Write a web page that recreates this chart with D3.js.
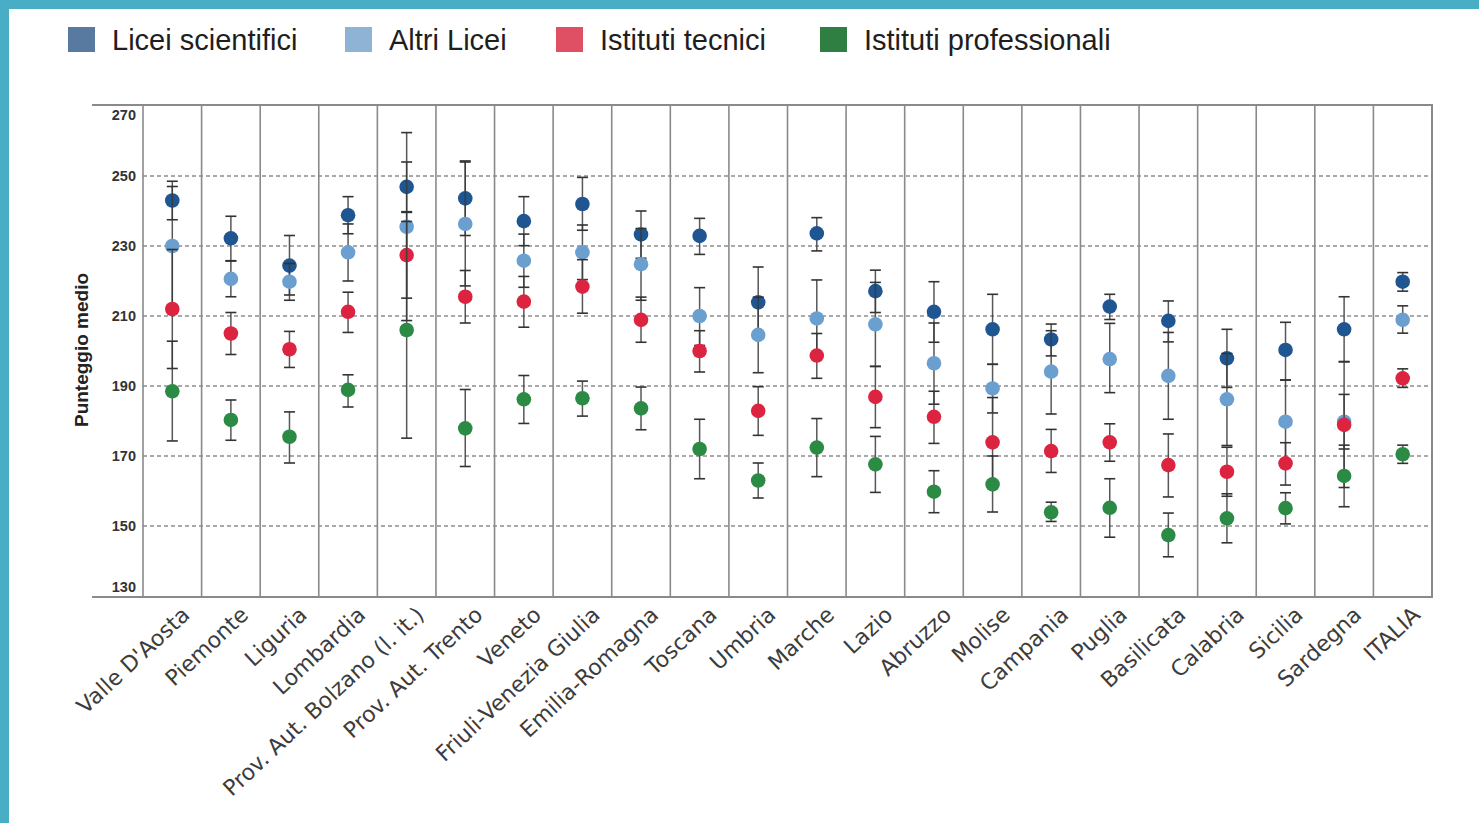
<!DOCTYPE html>
<html><head><meta charset="utf-8">
<script src="https://cdn.jsdelivr.net/npm/d3@7"></script>
<style>
html,body{margin:0;padding:0;background:#4aadc6;}
svg{display:block;}
</style></head>
<body>
<svg id="chart" width="1479" height="823"></svg>
<script>
const categories = ["Valle D'Aosta","Piemonte","Liguria","Lombardia","Prov. Aut. Bolzano (l. it.)","Prov. Aut. Trento","Veneto","Friuli-Venezia Giulia","Emilia-Romagna","Toscana","Umbria","Marche","Lazio","Abruzzo","Molise","Campania","Puglia","Basilicata","Calabria","Sicilia","Sardegna","ITALIA"];
const seriesNames = ["Licei scientifici","Altri Licei","Istituti tecnici","Istituti professionali"];

const liceiSci     = [243,232.2,224.4,238.8,246.9,243.6,237.1,242,233.3,232.9,213.9,233.6,217.1,211.2,206.2,203.3,212.7,208.6,197.9,200.3,206.2,219.8];
const liceiSciLo   = [237.5,225.8,216,233.5,239.8,233,230.1,234.5,226.5,227.6,204,228.6,211,202.5,196.2,198.6,209,202.6,189.6,191.7,197,217.1];
const liceiSciHi   = [248.5,238.5,233,244.1,254,254.3,244.1,249.6,240,237.9,224,238.1,223.1,219.8,216.2,207.7,216.2,214.3,206.2,208.2,215.5,222.4];

const altriLicei   = [230,220.6,219.8,228.2,235.5,236.3,225.8,228.2,224.8,210,204.6,209.3,207.6,196.5,189.3,194.1,197.7,192.9,186.2,179.8,179.8,208.9];
const altriLiceiLo = [213,215.5,214.5,220,208.7,218.6,218.2,220.4,214.5,201.6,193.8,198.3,195.6,184.8,182.3,182,188.1,180.5,173,167.9,172,205.1];
const altriLiceiHi = [247,225.7,225,236.3,262.4,254,233.4,236,235,218.1,215.4,220.3,219.6,208,196.2,205.8,207.9,205.3,199.3,191.7,187.6,212.9];

const tecnici      = [212,205,200.5,211.2,227.4,215.5,214.1,218.4,208.9,200,182.9,198.7,186.9,181.2,173.9,171.4,173.9,167.4,165.5,167.9,178.9,192.2];
const tecniciLo    = [195,199,195.3,205.3,215.1,208,206.8,210.8,202.5,194,175.9,192.2,178.1,173.6,161,165.3,168.5,158.3,158.5,161.7,161,189.6];
const tecniciHi    = [229,211,205.6,216.8,239.6,223,221.3,226.1,215.4,205.8,189.8,205,195.6,188.5,186.7,177.6,179.2,176.3,172.5,173.8,196.9,194.9];

const professionali   = [188.5,180.3,175.5,188.9,206,177.9,186.2,186.5,183.6,172,163,172.4,167.6,159.8,161.9,153.9,155.2,147.4,152.2,155.1,164.3,170.5];
const professionaliLo = [174.3,174.5,168,184,175.1,167,179.3,181.4,177.5,163.5,158,164.1,159.6,153.8,154,151.3,146.8,141.2,145.2,150.6,155.5,167.9];
const professionaliHi = [202.8,186,182.6,193.2,237,189,193,191.4,189.7,180.5,168,180.7,175.6,165.8,170,156.8,163.5,153.7,159.2,159.5,173.1,173.1];

const yTicks = [130,150,170,190,210,230,250,270];

const dotColors = ["#1f5590","#6a9fd0","#dc2440","#2b8a44"];
const legendColors = ["#587aa0","#8fb3d4","#e05064","#2f7f43"];

const series = [
  {name: seriesNames[0], mean: liceiSci, lo: liceiSciLo, hi: liceiSciHi},
  {name: seriesNames[1], mean: altriLicei, lo: altriLiceiLo, hi: altriLiceiHi},
  {name: seriesNames[2], mean: tecnici, lo: tecniciLo, hi: tecniciHi},
  {name: seriesNames[3], mean: professionali, lo: professionaliLo, hi: professionaliHi}
];

(function draw(){
const svg = d3.select("#chart");
svg.append("rect").attr("x",9).attr("y",9).attr("width",1479-9).attr("height",823-9).attr("fill","#ffffff");

const pLeft = 143, pRight = 1432, pTop = 106, pBottom = 596;
const x = d3.scaleBand().domain(categories).range([pLeft, pRight]).padding(0);
const y = d3.scaleLinear().domain([130,270]).range([pBottom, pTop]);

const g = svg.append("g");

g.append("g").selectAll("line").data(yTicks.filter(t => t > 130 && t < 270)).join("line")
  .attr("x1", pLeft).attr("x2", pRight)
  .attr("y1", d => y(d)).attr("y2", d => y(d))
  .attr("stroke","#555").attr("stroke-width",1.2).attr("stroke-dasharray","4,3");

g.append("g").selectAll("line").data(categories).join("line")
  .attr("x1", d => x(d)).attr("x2", d => x(d))
  .attr("y1", pTop-1).attr("y2", pBottom+1)
  .attr("stroke","#8a8a8a").attr("stroke-width",1.6);
g.append("line").attr("x1", pRight).attr("x2", pRight).attr("y1", pTop-1).attr("y2", pBottom+1)
  .attr("stroke","#8a8a8a").attr("stroke-width",2);
g.append("line").attr("x1", 92).attr("x2", pRight+1).attr("y1", pTop-1).attr("y2", pTop-1)
  .attr("stroke","#8a8a8a").attr("stroke-width",2);
g.append("line").attr("x1", 92).attr("x2", pRight+1).attr("y1", pBottom+1).attr("y2", pBottom+1)
  .attr("stroke","#8a8a8a").attr("stroke-width",2);

const yAxis = d3.axisLeft(y).tickValues(yTicks).tickSize(0).tickPadding(7);
const ya = g.append("g").attr("transform", `translate(${pLeft},0)`).call(yAxis);
ya.select(".domain").remove();
ya.selectAll("text")
  .attr("font-family","'Liberation Sans', Arial, sans-serif")
  .attr("font-size",14.5).attr("font-weight","bold").attr("fill","#333")
  .attr("dy", d => d === 270 ? "0.95em" : d === 130 ? "-0.3em" : "0.32em");

svg.append("text")
  .attr("transform","translate(88,350) rotate(-90)")
  .attr("text-anchor","middle")
  .attr("font-family","'Liberation Sans', Arial, sans-serif")
  .attr("font-size",19).attr("font-weight","bold").attr("fill","#222")
  .text("Punteggio medio");

const xAxis = d3.axisBottom(x).tickSize(0).tickPadding(0);
const xa = g.append("g").attr("transform", `translate(0,${pBottom})`).call(xAxis);
xa.select(".domain").remove();
xa.selectAll("text")
  .attr("font-family","'DejaVu Sans', Verdana, sans-serif")
  .attr("font-size",22).attr("fill","#3c3c3c")
  .attr("text-anchor","end")
  .attr("dy","0.72em")
  .attr("transform","translate(8,9) rotate(-43)");

const cap = 5.5;
series.forEach((s, si) => {
  const sg = g.append("g");
  const idx = d3.range(categories.length);
  const cx = i => x(categories[i]) + x.bandwidth()/2;
  sg.selectAll("line.v").data(idx).join("line").attr("class","v")
    .attr("x1", cx).attr("x2", cx)
    .attr("y1", i => y(s.lo[i])).attr("y2", i => y(s.hi[i]))
    .attr("stroke","#3a3a3a").attr("stroke-opacity",0.85).attr("stroke-width",1.5);
  ["lo","hi"].forEach(k => {
    sg.selectAll("line.c"+k).data(idx).join("line").attr("class","c"+k)
      .attr("x1", i => cx(i)-cap).attr("x2", i => cx(i)+cap)
      .attr("y1", i => y(s[k][i])).attr("y2", i => y(s[k][i]))
      .attr("stroke","#333").attr("stroke-width",1.6);
  });
  sg.selectAll("circle").data(idx).join("circle")
    .attr("cx", cx).attr("cy", i => y(s.mean[i])).attr("r",7.3)
    .attr("fill", dotColors[si]);
});

const legendX = [68, 345, 556, 820];
const lg = svg.append("g");
series.forEach((s, si) => {
  lg.append("rect").attr("x", legendX[si]).attr("y", 27).attr("width", 27).attr("height", 25)
    .attr("fill", legendColors[si]);
  lg.append("text").attr("x", legendX[si] + 44).attr("y", 50)
    .attr("font-family","'Liberation Sans', Arial, sans-serif")
    .attr("font-size",29).attr("fill","#1e1e1e")
    .text(s.name);
});
})();
</script>
</body></html>
